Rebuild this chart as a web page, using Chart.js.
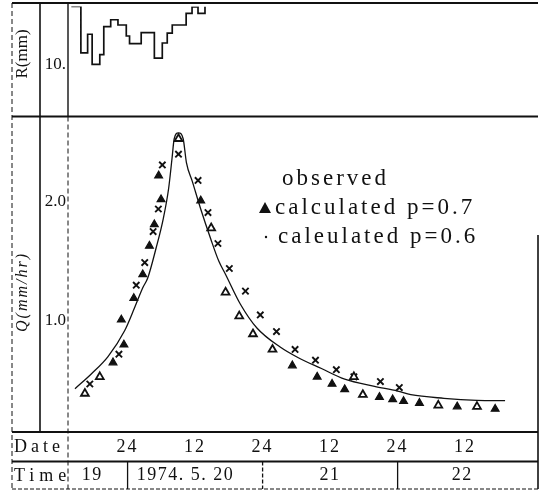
<!DOCTYPE html>
<html>
<head>
<meta charset="utf-8">
<script src="https://cdn.jsdelivr.net/npm/chart.js@4.4.1/dist/chart.umd.min.js"></script>
<style>
  html, body { margin: 0; padding: 0; background: #fff; }
</style>
</head>
<body>
<canvas id="hydroChart" width="541" height="492"></canvas>
<script>
// time axis: hours counted from 1974-05-19 00:00
const rainHours = [14, 15.7, 16.9, 17.7, 19.06, 19.77, 21.0, 22.29, 23.77, 24.35, 26.42, 28.76, 30.17, 31.05, 31.94, 34.41, 35.46, 36.52, 37.76];
const rainMm    = [0, 8.0, 4.8, 10.0, 8.3, 3.5, 2.3, 3.2, 5.1, 6.4, 4.5, 8.9, 6.3, 4.6, 3.2, 1.2, 0.1, 1.2, 0];

const obsHours = [14.65, 17.59, 20.52, 23.47, 25.24, 26.7, 27.58, 29.06, 30.35, 31.29, 31.89, 32.29, 33.05, 33.88, 34.46, 35.52, 37.0, 38.77, 40.23, 41.42, 44.06, 46.99, 51.12, 54.35, 58.46, 62.6, 67.89, 72.0, 74.35, 80.24, 86.11, 91.1];
const obsQ     = [0.43, 0.556, 0.70, 0.917, 1.11, 1.278, 1.36, 1.61, 1.86, 2.11, 2.36, 2.53, 2.58, 2.53, 2.33, 2.17, 1.94, 1.69, 1.50, 1.39, 1.14, 0.94, 0.78, 0.69, 0.60, 0.51, 0.45, 0.41, 0.38, 0.35, 0.333, 0.33];

// p=0.7, printed solid
const p07Hours = [21.41, 22.89, 23.35, 25.11, 26.7, 27.88, 28.76, 29.52, 29.95, 37.0, 53.29, 57.7, 60.35, 62.59, 68.77, 71.12, 73.06, 75.88, 82.59, 89.34];
const p07Q     = [0.65, 1.01, 0.80, 1.19, 1.39, 1.63, 1.81, 2.22, 2.02, 2.01, 0.625, 0.53, 0.47, 0.425, 0.36, 0.34, 0.325, 0.31, 0.28, 0.26];
// p=0.7, printed hollow in the scan
const p07HollowHours = [16.41, 19.06, 33.05, 38.86, 41.42, 43.85, 46.29, 49.76, 64.23, 65.82, 79.23, 86.11];
const p07HollowQ     = [0.39, 0.53, 2.53, 1.78, 1.24, 1.04, 0.89, 0.76, 0.53, 0.38, 0.29, 0.28];

const p06Hours = [17.29, 22.46, 25.54, 27.05, 28.54, 29.47, 30.18, 33.05, 36.53, 38.29, 40.06, 42.09, 44.95, 47.59, 50.47, 53.77, 57.4, 61.11, 64.23, 68.94, 72.3];
const p06Q     = [0.47, 0.72, 1.30, 1.49, 1.75, 1.94, 2.31, 2.40, 2.18, 1.91, 1.65, 1.44, 1.25, 1.05, 0.91, 0.76, 0.67, 0.59, 0.53, 0.49, 0.44];

const dateTickHours  = [24, 36, 48, 60, 72, 84];
const dateTickLabels = ['24', '12', '24', '12', '24', '12'];
const dayBreakHours  = [24, 48, 72];
const dayLabelHours  = [17.7, 34.3, 60, 83.5];
const dayLabels      = ['19', '1974. 5. 20', '21', '22'];
const rTicks = [10];
const qTicks = [2.0, 1.0];

const ink = '#111';
const serif = '"Liberation Serif", "DejaVu Serif", serif';

const pts = (xs, ys) => xs.map((h, i) => ({ x: h, y: ys[i] }));

function hline(ctx, x1, x2, y, w, dash) {
  ctx.beginPath();
  ctx.lineWidth = w;
  ctx.setLineDash(dash || []);
  ctx.moveTo(x1, y);
  ctx.lineTo(x2, y);
  ctx.stroke();
}
function vline(ctx, x, y1, y2, w, dash) {
  ctx.beginPath();
  ctx.lineWidth = w;
  ctx.setLineDash(dash || []);
  ctx.moveTo(x, y1);
  ctx.lineTo(x, y2);
  ctx.stroke();
}
function label(ctx, str, x, y, font, align, spacing) {
  ctx.font = font;
  ctx.textAlign = align || 'left';
  ctx.textBaseline = 'middle';
  ctx.letterSpacing = (spacing || 0) + 'px';
  ctx.fillText(str, x, y);
}

const framePlugin = {
  id: 'frame',
  beforeDraw(chart) {
    const ctx = chart.ctx;
    ctx.save();
    ctx.fillStyle = '#fff';
    ctx.fillRect(0, 0, chart.width, chart.height);
    ctx.restore();
  },
  afterDraw(chart) {
    const { ctx, chartArea: area } = chart;
    const { x, yR, yQ } = chart.scales;
    const left = 12, right = 538, top = 3, bottom = 489;
    const split = 116.5, timeTop = 461.5, dateTop = area.bottom;

    ctx.save();
    ctx.strokeStyle = ink;
    ctx.fillStyle = ink;

    hline(ctx, left, right, top, 2.2);
    hline(ctx, left, right, split, 2);
    hline(ctx, left, right, dateTop, 2);
    hline(ctx, left, right, timeTop, 2);
    hline(ctx, left, right, bottom, 1, [4, 2]);

    vline(ctx, left, top, bottom, 1, [5, 3]);
    vline(ctx, 40, top, dateTop, 1.6);
    vline(ctx, area.left, top, split, 1.4);
    vline(ctx, area.left, split, bottom, 1, [5, 3]);
    vline(ctx, right, 235, bottom, 1.6);

    dayBreakHours.forEach((h, i) => {
      vline(ctx, x.getPixelForValue(h), timeTop, bottom, 1.3, i === 1 ? [4, 2] : []);
    });
    ctx.setLineDash([]);

    // tick labels
    rTicks.forEach(v => label(ctx, String(v) + '.', 66, yR.getPixelForValue(v), '17px ' + serif, 'right'));
    qTicks.forEach(v => label(ctx, v.toFixed(1), 66, yQ.getPixelForValue(v), '17px ' + serif, 'right'));

    // rotated axis titles
    ctx.save();
    ctx.translate(23, 54);
    ctx.rotate(-Math.PI / 2);
    label(ctx, 'R(mm)', 0, 0, '17px ' + serif, 'center');
    ctx.restore();
    ctx.save();
    ctx.translate(23, 292);
    ctx.rotate(-Math.PI / 2);
    label(ctx, 'Q(mm/hr)', 0, 0, 'italic 16px ' + serif, 'center', 2);
    ctx.restore();

    // date / time rows
    label(ctx, 'Date', 14, 447, '18px ' + serif, 'left', 4);
    label(ctx, 'Time', 14, 476, '18px ' + serif, 'left', 5);
    dateTickHours.forEach((h, i) => label(ctx, dateTickLabels[i], x.getPixelForValue(h), 447, '18px ' + serif, 'center', 2));
    dayLabelHours.forEach((h, i) => label(ctx, dayLabels[i], x.getPixelForValue(h), 475, '18px ' + serif, 'center', 1.5));

    // legend
    label(ctx, 'observed', 282, 179, '23px ' + serif, 'left', 3);
    ctx.beginPath();
    ctx.moveTo(265, 202);
    ctx.lineTo(271, 213);
    ctx.lineTo(259, 213);
    ctx.closePath();
    ctx.fill();
    label(ctx, 'calculated p=0.7', 275, 208, '23px ' + serif, 'left', 3);
    ctx.beginPath();
    ctx.arc(266, 237, 1.2, 0, Math.PI * 2);
    ctx.fill();
    label(ctx, 'caleulated p=0.6', 278, 237, '23px ' + serif, 'left', 3);

    ctx.restore();
  }
};

new Chart(document.getElementById('hydroChart').getContext('2d'), {
  type: 'line',
  data: {
    datasets: [
      {
        label: 'R',
        data: pts(rainHours, rainMm),
        yAxisID: 'yR',
        stepped: true,
        borderColor: ink,
        borderWidth: 1.7,
        pointRadius: 0,
        fill: false
      },
      {
        label: 'observed',
        data: pts(obsHours, obsQ),
        yAxisID: 'yQ',
        cubicInterpolationMode: 'monotone',
        borderColor: ink,
        borderWidth: 1.3,
        pointRadius: 0,
        fill: false
      },
      {
        label: 'calculated p=0.7',
        data: pts(p07Hours, p07Q),
        yAxisID: 'yQ',
        showLine: false,
        pointStyle: 'triangle',
        pointRadius: 4.5,
        backgroundColor: ink,
        borderColor: ink,
        borderWidth: 1.2
      },
      {
        label: 'calculated p=0.7 (hollow)',
        data: pts(p07HollowHours, p07HollowQ),
        yAxisID: 'yQ',
        showLine: false,
        pointStyle: 'triangle',
        pointRadius: 4.5,
        backgroundColor: '#fff',
        borderColor: ink,
        borderWidth: 1.8
      },
      {
        label: 'caleulated p=0.6',
        data: pts(p06Hours, p06Q),
        yAxisID: 'yQ',
        showLine: false,
        pointStyle: 'crossRot',
        pointRadius: 4.5,
        borderColor: ink,
        borderWidth: 1.9
      }
    ]
  },
  options: {
    responsive: false,
    animation: false,
    events: [],
    layout: { padding: { left: 68, right: 3, top: 3, bottom: 60 } },
    plugins: { legend: { display: false }, tooltip: { enabled: false } },
    scales: {
      x: { type: 'linear', min: 13.41, max: 96.35, display: false },
      yR: { type: 'linear', reverse: true, min: 0, max: 73.3, display: false },
      yQ: { type: 'linear', min: 0.0667, max: 3.6417, display: false }
    }
  },
  plugins: [framePlugin]
});
</script>
</body>
</html>
